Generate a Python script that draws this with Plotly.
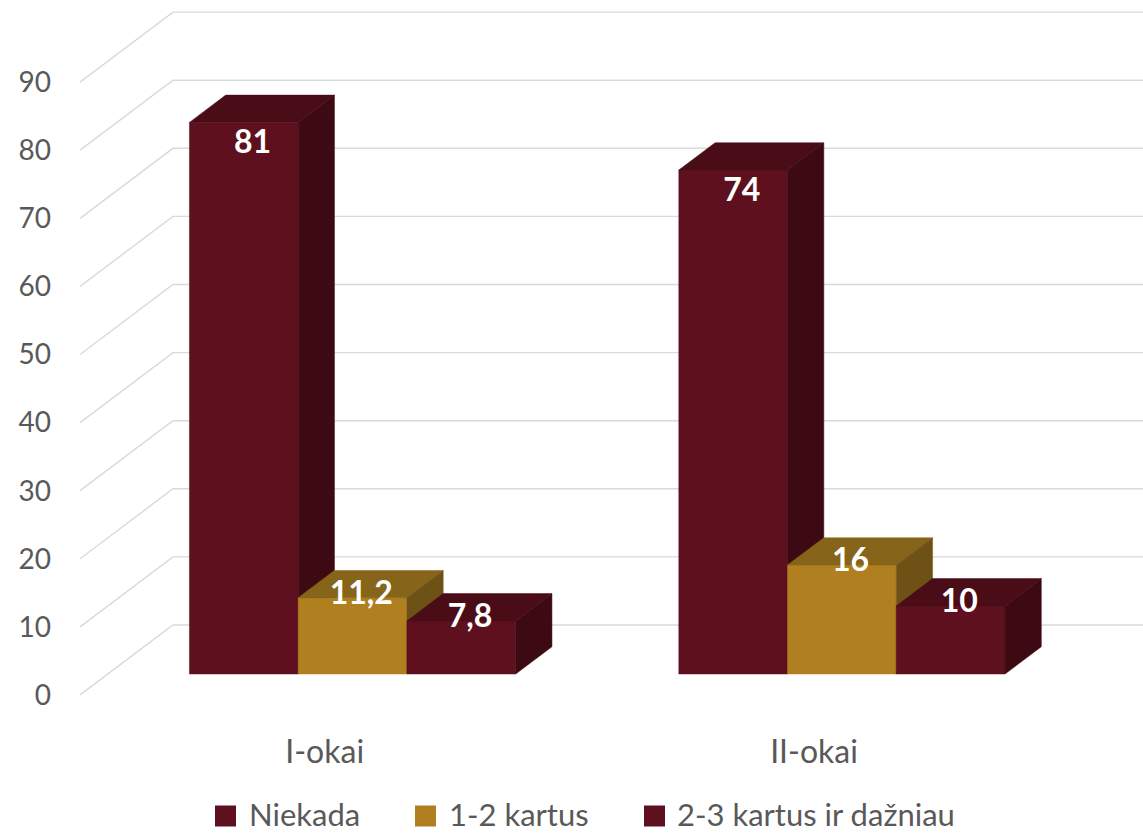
import plotly.graph_objects as go

# ---------------- data ----------------
categories = ["I-okai", "II-okai"]
series_names = ["Niekada", "1-2 kartus", "2-3 kartus ir dažniau"]
niekada = [81, 74]
kartus_1_2 = [11.2, 16]
kartus_2_3 = [7.8, 10]
series_values = [niekada, kartus_1_2, kartus_2_3]
y_ticks = [0, 10, 20, 30, 40, 50, 60, 70, 80, 90]

# ---------------- style ----------------
front_colors = ["#5e101e", "#b07f20", "#5e101e"]
top_colors = ["#4a0c17", "#866419", "#4a0c17"]
side_colors = ["#3d0a13", "#6e5215", "#3d0a13"]
grid_color = "#d9d9d9"
text_gray = "#595959"
FONT = "Lato"

# pseudo-3D geometry (axis units: x = bar widths, y = value units)
CAT_W = 4.5          # category band width (gap width 150%)
GAP = 0.75           # half gap on each side of a group
DX, DY = 0.855, 10.28  # projection of full floor depth
D0, D1 = 0.30, 0.69    # depth of bar front / back faces
X_MAX = 9.775
Y_MIN, Y_MAX = -0.734, 102.06


def proj(x, v, d):
    return x + d * DX, v + d * DY


def poly(points):
    xs = [p[0] for p in points] + [points[0][0]]
    ys = [p[1] for p in points] + [points[0][1]]
    return xs, ys


fig = go.Figure()

# ---- back wall + side wall gridlines ----
gx, gy = [], []
for v in y_ticks:
    p0 = proj(0, v, 0)
    p1 = proj(0, v, 1)
    gx += [p0[0], p1[0], X_MAX, None]
    gy += [p0[1], p1[1], p1[1], None]
fig.add_trace(go.Scatter(x=gx, y=gy, mode="lines",
                         line=dict(color=grid_color, width=1.4),
                         hoverinfo="skip", showlegend=False))

# ---- 3D bars (front, top, side faces) ----
label_x, label_y, label_t = [], [], []
for i, cat in enumerate(categories):
    for k, vals in enumerate(series_values):
        v = vals[i]
        x0 = CAT_W * i + GAP + k
        x1 = x0 + 1
        faces = [
            ([proj(x0, 0, D0), proj(x1, 0, D0), proj(x1, v, D0), proj(x0, v, D0)], front_colors[k]),
            ([proj(x0, v, D0), proj(x1, v, D0), proj(x1, v, D1), proj(x0, v, D1)], top_colors[k]),
            ([proj(x1, 0, D0), proj(x1, 0, D1), proj(x1, v, D1), proj(x1, v, D0)], side_colors[k]),
        ]
        for pts, col in faces:
            xs, ys = poly(pts)
            fig.add_trace(go.Scatter(x=xs, y=ys, mode="lines", fill="toself",
                                     fillcolor=col, line=dict(color=col, width=0.5),
                                     hoverinfo="skip", showlegend=False,
                                     name=series_names[k]))
        lv = v - 3.3 if v > 30 else v + 0.3
        lx, ly = proj((x0 + x1) / 2 + 0.08, lv, D0)
        label_x.append(lx)
        label_y.append(ly)
        label_t.append(str(v).replace(".", ","))

fig.add_trace(go.Scatter(x=label_x, y=label_y, mode="text", text=label_t,
                         textposition="middle center",
                         textfont=dict(family=FONT, size=32, color="white", weight="bold"),
                         hoverinfo="skip", showlegend=False))

# ---- layout ----
PLOT_L, PLOT_R, PLOT_T, PLOT_B = 80, 1143, 0, 700
W, H = 1143, 833

fig.update_layout(
    width=W, height=H,
    margin=dict(l=PLOT_L, r=W - PLOT_R, t=PLOT_T, b=H - PLOT_B, pad=0),
    paper_bgcolor="white", plot_bgcolor="white",
    showlegend=False,
    xaxis=dict(range=[0, X_MAX], tickvals=[CAT_W * i + CAT_W / 2 for i in range(len(categories))],
               ticktext=categories, showgrid=False, zeroline=False, showline=False,
               ticks="", ticklabelstandoff=30,
               tickfont=dict(family=FONT, size=32, color=text_gray), fixedrange=True),
    yaxis=dict(range=[Y_MIN, Y_MAX], tickvals=y_ticks, ticktext=[str(t) for t in y_ticks],
               showgrid=False, zeroline=False, showline=False, ticks="",
               ticklabelstandoff=28,
               tickfont=dict(family=FONT, size=28, color=text_gray), fixedrange=True),
)

# ---- manual legend (bottom) ----
legend_square_px = [215, 415, 644]
legend_text_px = [247, 447, 675]
LEG_Y = 814
SQ = 21


def px_x(p):
    return (p - PLOT_L) / (PLOT_R - PLOT_L)


def px_y(p):
    return (PLOT_B - p) / (PLOT_B - PLOT_T)


for k, name in enumerate(series_names):
    fig.add_shape(type="rect", xref="paper", yref="paper",
                  x0=px_x(legend_square_px[k]), x1=px_x(legend_square_px[k] + SQ),
                  y0=px_y(LEG_Y + 2 + SQ / 2), y1=px_y(LEG_Y + 2 - SQ / 2),
                  fillcolor=front_colors[k], line=dict(width=0))
    fig.add_annotation(xref="paper", yref="paper", x=px_x(legend_text_px[k]), y=px_y(LEG_Y),
                       xanchor="left", yanchor="middle", showarrow=False, text=name,
                       font=dict(family=FONT, size=31, color=text_gray))

fig.write_html(
    "out.html",
    config={"displayModeBar": False},
    post_script="document.body.style.margin='0';document.body.style.overflow='hidden';",
)
